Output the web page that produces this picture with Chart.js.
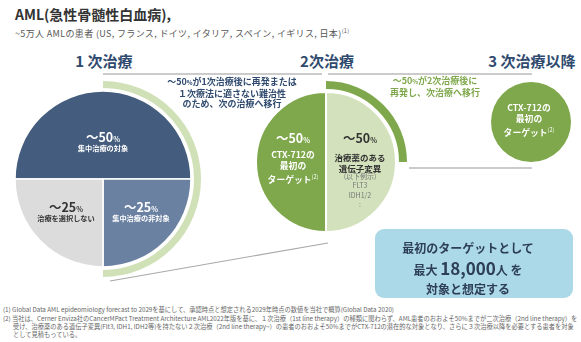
<!DOCTYPE html>
<html lang="ja">
<head>
<meta charset="utf-8">
<script src="https://cdn.jsdelivr.net/npm/chart.js@4.4.0/dist/chart.umd.min.js"></script>
<style>
  body { margin: 0; background: #fff; font-family: "Noto Sans CJK JP", "Noto Sans", sans-serif; }
  #page { position: relative; width: 581px; height: 342px; overflow: hidden; }
  canvas { position: absolute; }
  svg { position: absolute; left: 0; top: 0; }
  .t { position: absolute; transform: translate(-50%, -50%); white-space: nowrap; text-align: center; line-height: 1.15; font-weight: 700; }
  .l { position: absolute; white-space: nowrap; }
  .head { font-size: 15px; color: #2f4a6e; }
  .big { font-size: 12.5px; }
  .big small { font-size: 7px; }
  .sub { font-size: 7.2px; }
  .w { color: #fff; }
  .d { color: #333; }
  .nav { color: #2f4a6e; font-size: 9px; line-height: 10.5px; }
  .grn { color: #7ea84b; font-size: 9px; line-height: 10.5px; }
  sup { font-size: 5.5px; vertical-align: 4px; font-weight: 400; }
  .fn { position: absolute; white-space: nowrap; font-size: 6.25px; color: #666; line-height: 1; }
  #box { position: absolute; left: 375px; top: 229px; width: 198px; height: 69px; background: #acd9e7; border-radius: 9px; }
</style>
</head>
<body>
<div id="page">
  <svg width="581" height="342">
    <line x1="103" y1="74" x2="322" y2="74" stroke="#cbcbcb" stroke-width="2"/>
    <line x1="328" y1="74" x2="532" y2="74" stroke="#cbcbcb" stroke-width="2"/>
    <line x1="409" y1="168" x2="532" y2="168" stroke="#cbcbcb" stroke-width="2"/>
    <line x1="110" y1="281" x2="328" y2="243" stroke="#a8a8a8" stroke-width="1.1"/>
  </svg>

  <canvas id="first" width="196" height="196" style="left:5px;top:81px"></canvas>
  <canvas id="second" width="162" height="162" style="left:245px;top:81px"></canvas>
  <canvas id="third" width="80" height="80" style="left:491px;top:82px"></canvas>
  <div id="box"></div>

  <div class="l" style="left:15px;top:4px;font-size:14px;font-weight:700;color:#333;">AML(急性骨髄性白血病),</div>
  <div class="l" style="left:15px;top:27px;font-size:9px;letter-spacing:0.35px;color:#555;">~5万人 AMLの患者 (US, フランス, ドイツ, イタリア, スペイン, イギリス, 日本)<sup>(1)</sup></div>

  <div class="t head" style="left:104px;top:61px;">1 次治療</div>
  <div class="t head" style="left:327px;top:61px;">2次治療</div>
  <div class="t head" style="left:532px;top:61px;">3 次治療以降</div>

  <div class="t nav" style="left:232px;top:93px;">～50<small style="font-size:6px">%</small>が1次治療後に再発または<br>１次療法に適さない難治性<br>のため、次の治療へ移行</div>
  <div class="t grn" style="left:435px;top:87px;">～50<small style="font-size:6px">%</small>が2次治療後に<br>再発し、次治療へ移行</div>

  <div class="t big w" style="left:103px;top:137px;">～50<small>%</small></div>
  <div class="t sub w" style="left:103px;top:148px;">集中治療の対象</div>
  <div class="t big d" style="left:66px;top:207px;">～25<small>%</small></div>
  <div class="t sub d" style="left:66px;top:218px;">治療を選択しない</div>
  <div class="t big w" style="left:141px;top:207px;">～25<small>%</small></div>
  <div class="t sub w" style="left:141px;top:218px;">集中治療の非対象</div>

  <div class="t big w" style="left:293px;top:138px;">～50<small>%</small></div>
  <div class="t w" style="left:293px;top:168px;font-size:8.8px;line-height:10.8px;">CTX-712の<br>最初の<br>ターゲット<sup>(2)</sup></div>
  <div class="t big d" style="left:360px;top:138px;">～50<small>%</small></div>
  <div class="t d" style="left:360px;top:162px;font-size:8.5px;line-height:10.5px;">治療薬のある<br>遺伝子変異</div>
  <div class="t" style="left:360px;top:191px;font-size:7px;line-height:9.3px;color:#777;font-weight:400;">(以下例示)<br>FLT3<br>IDH1/2<br>:</div>

  <div class="t w" style="left:529px;top:121px;font-size:8.8px;line-height:10.8px;">CTX-712の<br>最初の<br>ターゲット<sup>(2)</sup></div>

  <div class="t" style="left:468px;top:268px;color:#2d3f57;font-size:12px;line-height:19.5px;">最初のターゲットとして<br>最大 <span style="font-size:17px;">18,000</span>人 を<br>対象と想定する</div>

  <div class="fn" style="left:3px;top:307px;">(1) Global Data AML epideomiology forecast to 2029を基にして、承認時点と想定される2029年時点の数値を当社で概算(Global Data 2020)</div>
  <div class="fn" style="left:3px;top:315.5px;">(2) 当社は、Cerner Enviza社のCancerMPact Treatment Architecture AML2022年版を基に、１次治療（1st line therapy）の種類に関わらず、AML患者のおおよそ50%までが二次治療（2nd line therapy）を</div>
  <div class="fn" style="left:13px;top:324px;">受け、治療薬のある遺伝子変異(Flt3, IDH1, IDH2等)を持たない２次治療（2nd line therapy~）の患者のおおよそ50%までがCTX-712の潜在的な対象となり、さらに３次治療以降を必要とする患者を対象</div>
  <div class="fn" style="left:13px;top:332px;">として見積もっている。</div>
</div>

<script>
const firstLineLabels = ["集中治療の対象", "集中治療の非対象", "治療を選択しない"];
const firstLineShares = [50, 25, 25];
const firstRelapse = [50, 50];   // 1次治療後に2次治療へ
const secondLineLabels = ["治療薬のある遺伝子変異", "CTX-712の最初のターゲット"];
const secondLineShares = [50, 50];
const secondRelapse = [25, 75];  // 2次治療後に3次治療以降へ
const thirdLineShares = [100];

const none = "rgba(0,0,0,0)";

function drawPie(id, labels, radius, datasets) {
  return new Chart(document.getElementById(id), {
    type: "pie",
    data: { labels: labels, datasets: datasets },
    options: {
      responsive: false,
      animation: false,
      radius: radius,
      events: [],
      layout: { padding: 0 },
      plugins: { legend: { display: false }, tooltip: { enabled: false } },
    },
  });
}

drawPie("first", firstLineLabels, 98, [
  { data: firstRelapse, backgroundColor: ["#d0e1b8", none], borderWidth: 0, weight: 7, rotation: 0 },
  { data: [1], backgroundColor: [none], borderWidth: 0, weight: 3 },
  { data: firstLineShares, backgroundColor: ["#445c7d", "#6a81a2", "#dcdcdc"], borderColor: "#fff", borderWidth: 1.5, weight: 88, rotation: -90 },
]);

drawPie("second", secondLineLabels, 81, [
  { data: secondRelapse, backgroundColor: ["#7ea84b", none], borderWidth: 0, weight: 8, rotation: 0 },
  { data: [1], backgroundColor: [none], borderWidth: 0, weight: 3 },
  { data: secondLineShares, backgroundColor: ["#d3e2bd", "#7ea84b"], borderColor: "#fff", borderWidth: 2, weight: 70, rotation: 0 },
]);

drawPie("third", ["CTX-712の最初のターゲット"], 40, [
  { data: thirdLineShares, backgroundColor: ["#7ea84b"], borderWidth: 0 },
]);
</script>
</body>
</html>
